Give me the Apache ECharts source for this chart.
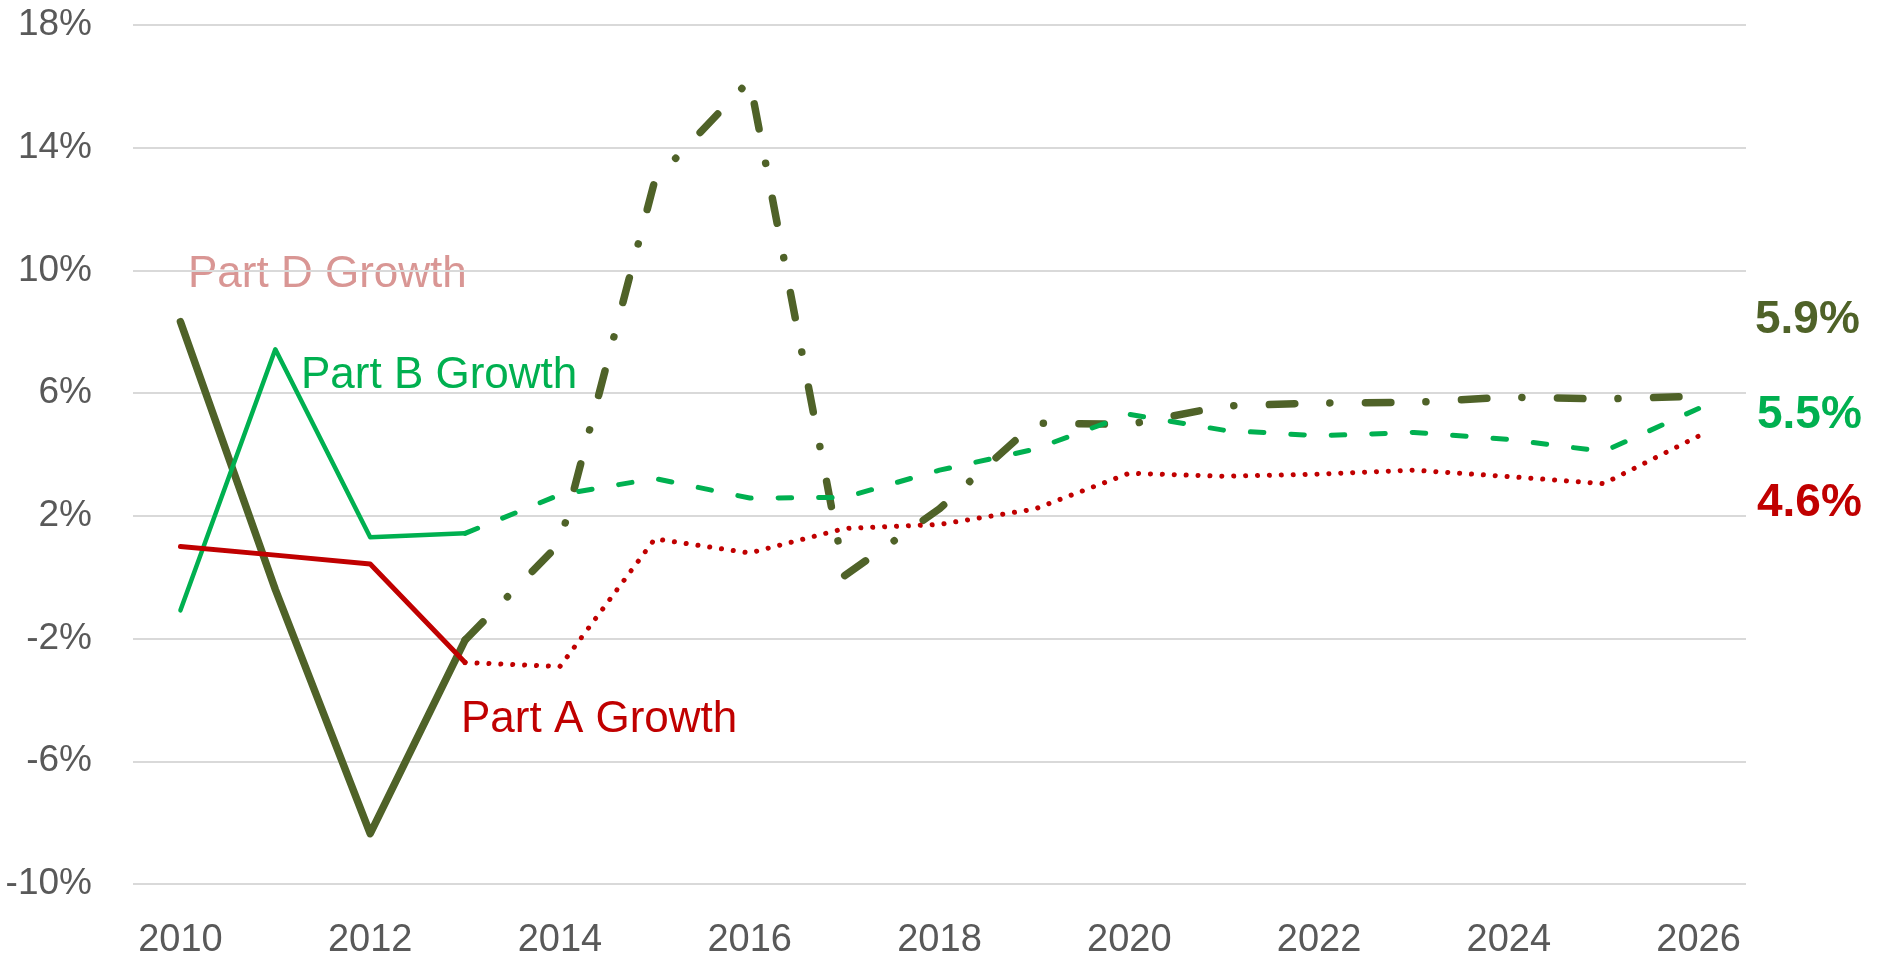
<!DOCTYPE html>
<html>
<head>
<meta charset="utf-8">
<title>Growth</title>
<script src="https://cdn.jsdelivr.net/npm/echarts@6/dist/echarts.min.js"></script>
<style>
  html, body { margin: 0; padding: 0; background: #fff; }
  #growth-chart { width: 1881px; height: 960px; }
</style>
</head>
<body>
<div id="growth-chart"></div>
<script>
// years on the x axis
var years = ['2010','2011','2012','2013','2014','2015','2016','2017','2018',
             '2019','2020','2021','2022','2023','2024','2025','2026'];

// actual values 2010-2013 (solid lines)
var partAActual = [1.0, 0.72, 0.43, -2.78];
var partBActual = [-1.08, 7.43, 1.30, 1.43];
var partDActual = [8.33, -0.4, -8.36, -2.05];

// projected values 2013-2026 (broken lines)
var partAProj = [-2.78, -2.91, 1.25, 0.79, 1.59, 1.72, 2.22, 3.39, 3.29, 3.36, 3.49, 3.28, 3.05, 4.6];
var partBProj = [1.43, 2.69, 3.22, 2.58, 2.6, 3.49, 4.17, 5.31, 4.79, 4.61, 4.72, 4.49, 4.1, 5.5];
var partDProj = [-2.05, 1.11, 12.94, 16.2, 0.05, 2.23, 5.02, 4.98, 5.58, 5.68, 5.70, 5.87, 5.81, 5.9];

// y axis ticks
var yMin = -10, yMax = 18, yStep = 4;

// end labels
var endLabels = ['5.9%', '5.5%', '4.6%'];

var colD = '#4F6228';
var colB = '#00B050';
var colA = '#C00000';
var fontName = '"Liberation Sans", Arial, sans-serif';

// pad arrays so they line up with the years
function actualRow(arr){
  var out = [];
  for(var i=0;i<years.length;i++){
    out.push(i < arr.length ? arr[i] : null);
  }
  return out;
}
function projRow(arr){
  var out = [];
  var start = years.length - arr.length;
  for(var i=0;i<years.length;i++){
    out.push(i >= start ? arr[i-start] : null);
  }
  return out;
}

function lineSeries(name, data, color, width, dash){
  return {
    name: name,
    type: 'line',
    data: data,
    symbol: 'none',
    silent: true,
    connectNulls: false,
    lineStyle: {
      color: color,
      width: width,
      type: dash || 'solid',
      cap: 'round',
      join: 'round'
    }
  };
}

var chart = echarts.init(document.getElementById('growth-chart'));
var option = {
  animation: false,
  backgroundColor: '#fff',
  grid: {
    left: 133,
    right: 135,
    top: 25,
    bottom: 73,
    containLabel: false
  },
  xAxis: {
    type: 'category',
    boundaryGap: true,
    data: years,
    axisLine: { show: false },
    axisTick: { show: false },
    axisLabel: {
      interval: 1,
      margin: 38,
      color: '#595959',
      fontFamily: fontName,
      fontSize: 38
    }
  },
  yAxis: {
    type: 'value',
    min: yMin,
    max: yMax,
    interval: yStep,
    axisLine: { show: false },
    axisTick: { show: false },
    splitLine: { lineStyle: { color: '#D9D9D9', width: 2 } },
    axisLabel: {
      margin: 41,
      color: '#595959',
      fontFamily: fontName,
      fontSize: 37,
      formatter: function(v){ return v + '%'; }
    }
  },
  series: [
    lineSeries('Part D Growth', actualRow(partDActual), colD, 7.5),
    lineSeries('Part D Projected', projRow(partDProj), colD, 7.5, [25.5, 35, 0.1, 35.5]),
    lineSeries('Part B Growth', actualRow(partBActual), colB, 4.5),
    lineSeries('Part B Projected', projRow(partBProj), colB, 5, [13.5, 27]),
    lineSeries('Part A Growth', actualRow(partAActual), colA, 5),
    lineSeries('Part A Projected', projRow(partAProj), colA, 5, [0.1, 11.8])
  ],
  graphic: [
    { type: 'text', left: 188, top: 253, silent: true,
      style: { text: 'Part D Growth', fill: '#D99694', font: '44px ' + fontName } },
    { type: 'text', left: 301, top: 354, silent: true,
      style: { text: 'Part B Growth', fill: colB, font: '44px ' + fontName } },
    { type: 'text', left: 461, top: 698, silent: true,
      style: { text: 'Part A Growth', fill: colA, font: '44px ' + fontName } },
    { type: 'text', left: 1755, top: 297, silent: true,
      style: { text: endLabels[0], fill: colD, font: 'bold 46px ' + fontName } },
    { type: 'text', left: 1757, top: 392, silent: true,
      style: { text: endLabels[1], fill: colB, font: 'bold 46px ' + fontName } },
    { type: 'text', left: 1757, top: 480, silent: true,
      style: { text: endLabels[2], fill: colA, font: 'bold 46px ' + fontName } }
  ]
};
chart.setOption(option);
</script>
</body>
</html>
